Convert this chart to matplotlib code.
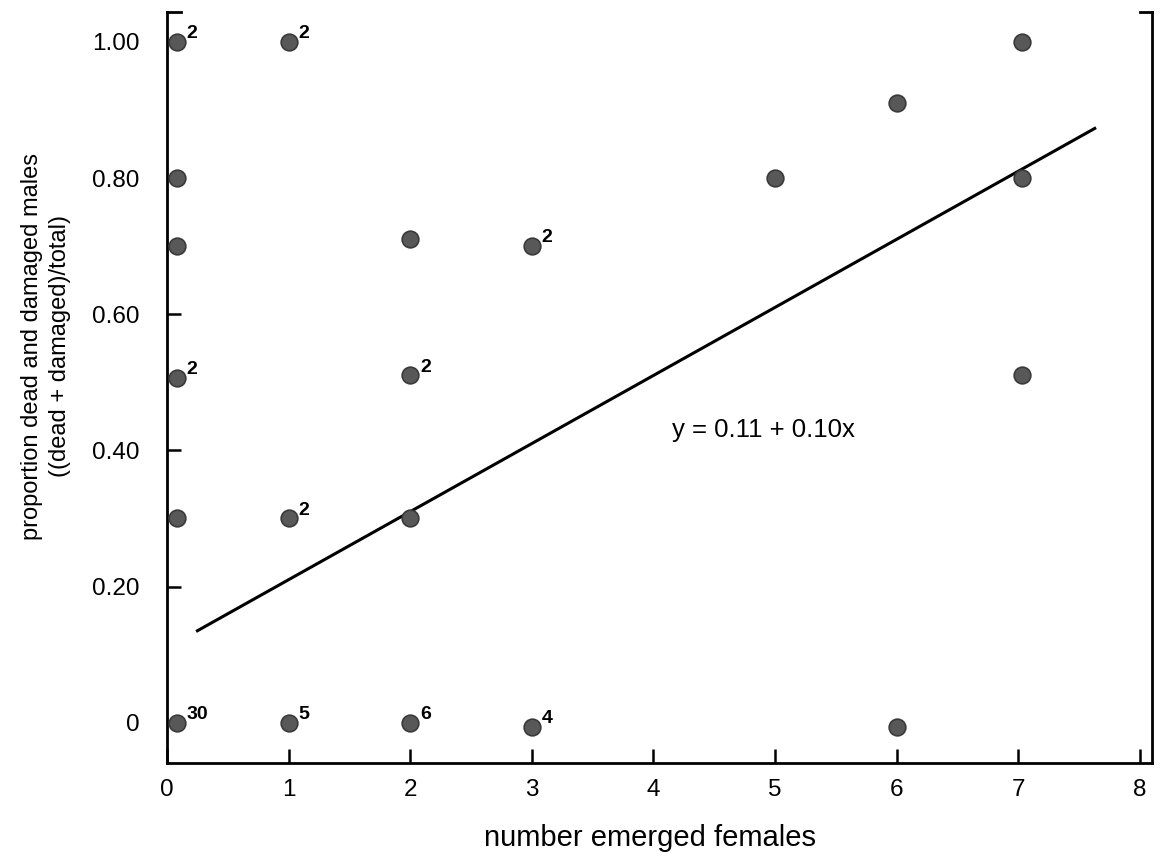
import numpy as np
import matplotlib.pyplot as plt

plt.rcParams['font.family'] = ['Liberation Sans', 'DejaVu Sans']

# Punkty (x = liczba samic, y = proporcja)
x_pts = [0.08, 0.08, 0.08, 0.08, 0.08, 0.08,
         1.0, 1.0, 1.0,
         2.0, 2.0, 2.0, 2.0,
         3.0, 3.0,
         5.0,
         6.0, 6.0,
         7.03, 7.03, 7.03]
y_pts = [1.00, 0.80, 0.70, 0.507, 0.30, 0.0,
         1.00, 0.30, 0.0,
         0.71, 0.51, 0.30, 0.0,
         0.70, -0.006,
         0.80,
         0.91, -0.007,
         1.00, 0.80, 0.51]

# Liczebności przy punktach
count_x = [0.08, 1.0, 0.08, 2.0, 3.0, 1.0, 0.08, 1.0, 2.0, 3.0]
count_y = [1.00, 1.00, 0.507, 0.51, 0.70, 0.30, 0.0, 0.0, 0.0, -0.006]
count_txt = ['2', '2', '2', '2', '2', '2', '30', '5', '6', '4']

# Prosta regresji y = 0.11 + 0.10x
a, b = 0.11, 0.10
line_x = np.array([0.25, 7.63])

fig = plt.figure(figsize=(11.6, 8.59), dpi=100)
ax = fig.add_axes([0.144, 0.112, 0.849, 0.874])

ax.plot(line_x, a + b * line_x, color='black', lw=2.2, zorder=2)
ax.plot(x_pts, y_pts, 'o', ms=12, color='#585858', mec='#3a3a3a', mew=1.2,
        zorder=3, clip_on=False)

for cx, cy, t in zip(count_x, count_y, count_txt):
    ax.annotate(t, (cx, cy), xytext=(7, 6), textcoords='offset points',
                ha='left', va='center', fontsize=14, fontweight='bold')

ax.text(4.15, 0.43, 'y = 0.11 + 0.10x', fontsize=18.5, ha='left', va='center')

ax.set_xlim(0, 8.1)
ax.set_ylim(-0.059, 1.044)
ax.set_xticks(range(9))
ax.set_yticks([0, 0.2, 0.4, 0.6, 0.8, 1.0])
ax.set_yticklabels(['0', '0.20', '0.40', '0.60', '0.80', '1.00'])
ax.tick_params(direction='in', length=10, width=1.8, labelsize=17.5)
ax.tick_params(axis='y', pad=20)
ax.tick_params(axis='x', pad=12)

ax.spines['top'].set_visible(False)
for s in ['left', 'right', 'bottom']:
    ax.spines[s].set_linewidth(2)

# krótkie narożniki u góry
ax.plot([0, 0.014], [1, 1], transform=ax.transAxes, color='black', lw=2,
        clip_on=False)
ax.plot([0.988, 1], [1, 1], transform=ax.transAxes, color='black', lw=2,
        clip_on=False)

ax.set_xlabel('number emerged females', fontsize=21)
ax.xaxis.set_label_coords(0.49, -0.082)
ax.set_ylabel('proportion dead and damaged males\n((dead + damaged)/total)',
              fontsize=17, linespacing=1.35)
ax.yaxis.set_label_coords(-0.098, 0.555)

fig.savefig('out.png', dpi=100)
